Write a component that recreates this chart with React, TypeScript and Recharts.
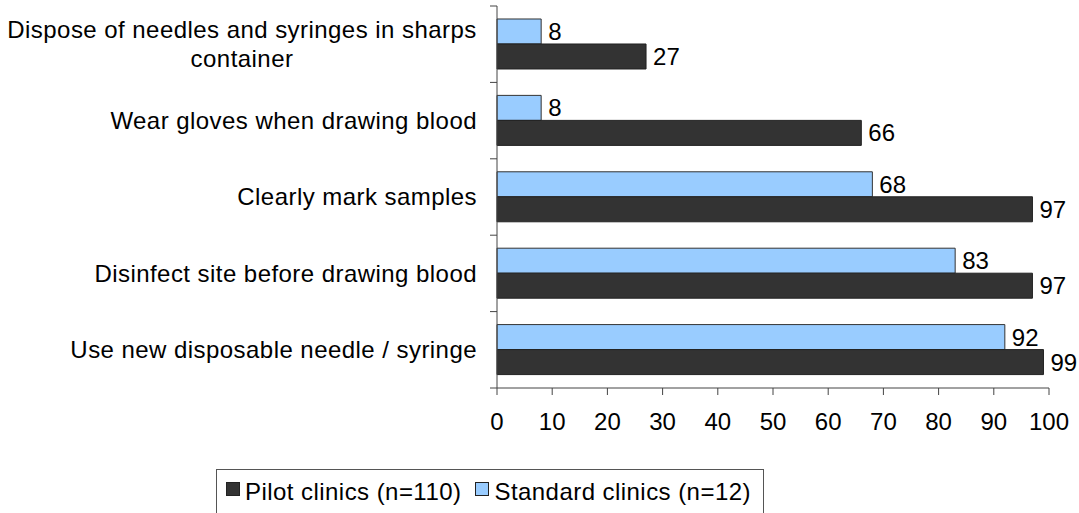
import { BarChart, Bar, XAxis, YAxis, Legend, LabelList } from "recharts";

const categories = [
  "Dispose of needles and syringes in sharps container",
  "Wear gloves when drawing blood",
  "Clearly mark samples",
  "Disinfect site before drawing blood",
  "Use new disposable needle / syringe",
];
const standardValues = [8, 8, 68, 83, 92];
const pilotValues = [27, 66, 97, 97, 99];
const xTicks = [0, 10, 20, 30, 40, 50, 60, 70, 80, 90, 100];

const data = categories.map((name, i) => ({
  name,
  standard: standardValues[i],
  pilot: pilotValues[i],
}));

const W = 1079;
const H = 513;
const MARGIN = { top: 6, right: 30, bottom: 0, left: 0 };
const X_AXIS_H = 125;
const BAND = (H - MARGIN.top - MARGIN.bottom - X_AXIS_H) / categories.length;

const FONT = "'Liberation Sans', Arial, sans-serif";
const DARK = "#333333";
const BLUE = "#99CCFF";
const AXIS = "#444";
const LS = 0.45;
const TICK_GAP = 20;

// greedy wrap, ~42 chars per line
function wrap(label: string, max = 42) {
  const lines: string[] = [];
  let cur = "";
  for (const w of label.split(" ")) {
    const next = cur ? cur + " " + w : w;
    if (next.length > max && cur) {
      lines.push(cur);
      cur = w;
    } else cur = next;
  }
  if (cur) lines.push(cur);
  return lines;
}

function CategoryTick(props: { x?: number; y?: number; index?: number; payload?: { value?: string } }) {
  const { x = 0, y = 0, index = 0, payload } = props;
  const lines = wrap(payload?.value ?? "");
  const ax = x + TICK_GAP; // axis line position
  // tick marks sit between categories, not at band centres
  const marks = (
    <>
      <line x1={ax} x2={ax - 7} y1={y - BAND / 2} y2={y - BAND / 2} stroke={AXIS} />
      {index === categories.length - 1 && (
        <line x1={ax} x2={ax - 7} y1={y + BAND / 2} y2={y + BAND / 2} stroke={AXIS} />
      )}
    </>
  );
  if (lines.length === 1) {
    return (
      <g>
        {marks}
        <text x={x} y={y} dy="0.35em" textAnchor="end" fill="#000" fontSize={24} fontFamily={FONT} letterSpacing={LS}>
          {lines[0]}
        </text>
      </g>
    );
  }
  const cx = x - 235;
  const lh = 29;
  const start = y - ((lines.length - 1) * lh) / 2;
  return (
    <g>
      {marks}
      <text textAnchor="middle" fill="#000" fontSize={24} fontFamily={FONT} letterSpacing={LS}>
        {lines.map((l, i) => (
          <tspan key={l} x={cx} y={start + i * lh} dy="0.35em">
            {l}
          </tspan>
        ))}
      </text>
    </g>
  );
}

function LegendBox() {
  const item = (color: string, label: string) => (
    <span style={{ display: "inline-flex", alignItems: "center", marginRight: 14 }}>
      <span
        style={{
          width: 14,
          height: 14,
          background: color,
          border: "1px solid #222",
          boxSizing: "border-box",
          marginRight: 5,
          display: "inline-block",
          position: "relative",
          top: -3,
        }}
      />
      {label}
    </span>
  );
  return (
    <div
      style={{
        border: "1px solid #555",
        boxSizing: "border-box",
        height: 60,
        padding: "7px 0 0 9px",
        fontFamily: FONT,
        fontSize: 24,
        letterSpacing: 0.45,
        color: "#000",
        whiteSpace: "nowrap",
        background: "#fff",
      }}
    >
      {item(DARK, "Pilot clinics (n=110)")}
      {item(BLUE, "Standard clinics (n=12)")}
    </div>
  );
}

export default function App() {
  return (
    <div style={{ position: "absolute", left: 0, top: 0, width: W, height: H, background: "#fff" }}>
      <BarChart
        width={W}
        height={H}
        data={data}
        layout="vertical"
        margin={MARGIN}
        barCategoryGap="17%"
        barGap={0}
      >
        <XAxis
          type="number"
          domain={[0, 100]}
          ticks={xTicks}
          interval={0}
          height={X_AXIS_H}
          stroke={AXIS}
          tickSize={7}
          tickMargin={18}
          tick={{ fill: "#000", fontSize: 24, fontFamily: FONT }}
        />
        <YAxis
          type="category"
          dataKey="name"
          width={497}
          stroke={AXIS}
          tickLine={false}
          tickSize={0}
          tickMargin={TICK_GAP}
          interval={0}
          tick={<CategoryTick />}
        />
        <Legend
          layout="horizontal"
          verticalAlign="middle"
          align="center"
          content={<LegendBox />}
          wrapperStyle={{ left: 216, top: 469, width: 548, height: 60, bottom: "auto" }}
        />
        <Bar dataKey="standard" name="Standard clinics (n=12)" fill={BLUE} stroke="#333" strokeWidth={1} isAnimationActive={false}>
          <LabelList dataKey="standard" position="right" offset={7} fill="#000" fontSize={24} fontFamily={FONT} />
        </Bar>
        <Bar dataKey="pilot" name="Pilot clinics (n=110)" fill={DARK} stroke="#222" strokeWidth={1} isAnimationActive={false}>
          <LabelList dataKey="pilot" position="right" offset={7} fill="#000" fontSize={24} fontFamily={FONT} />
        </Bar>
      </BarChart>
    </div>
  );
}
